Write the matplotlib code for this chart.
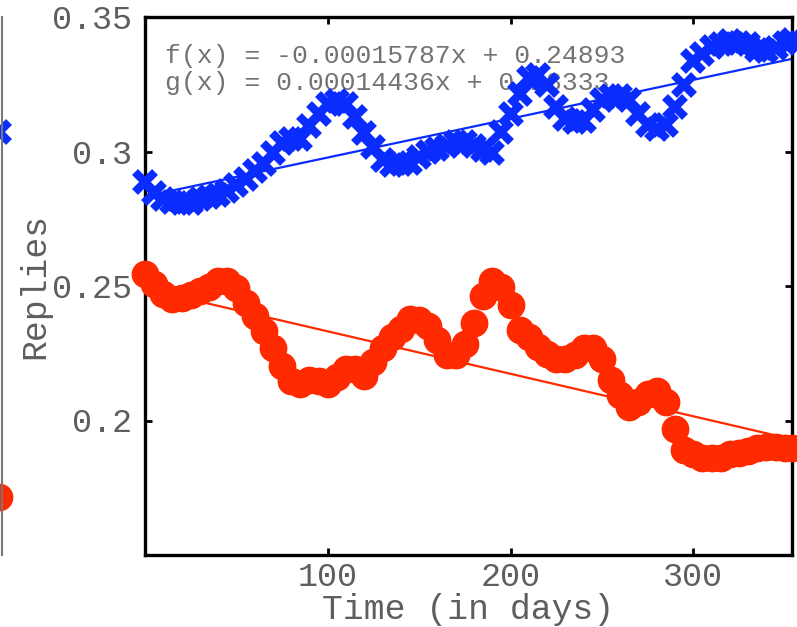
import matplotlib
matplotlib.use('Agg')
import matplotlib.pyplot as plt
import numpy as np

# ---- data ----
days = list(range(0, 351, 5)) + [354]
blue_vals = [0.2885, 0.2844, 0.2825, 0.2814, 0.2810, 0.2810, 0.2822, 0.2829, 0.2840, 0.2855,
             0.2874, 0.2896, 0.2926, 0.2955, 0.2993, 0.3030, 0.3045, 0.3048, 0.3093, 0.3138,
             0.3175, 0.3186, 0.3178, 0.3130, 0.3067, 0.3015, 0.2970, 0.2948, 0.2952, 0.2959,
             0.2981, 0.3000, 0.3011, 0.3022, 0.3037, 0.3037, 0.3022, 0.3004, 0.2996, 0.3071,
             0.3138, 0.3212, 0.3275, 0.3286, 0.3249, 0.3164, 0.3119, 0.3108, 0.3112, 0.3156,
             0.3193, 0.3208, 0.3208, 0.3193, 0.3138, 0.3100, 0.3082, 0.3097, 0.3167, 0.3249,
             0.3335, 0.3364, 0.3390, 0.3398, 0.3409, 0.3405, 0.3398, 0.3379, 0.3372, 0.3383,
             0.3405, 0.3416]
red_vals = [0.2543, 0.2506, 0.2472, 0.2450, 0.2454, 0.2465, 0.2480, 0.2498, 0.2517, 0.2517,
            0.2491, 0.2435, 0.2387, 0.2331, 0.2271, 0.2204, 0.2145, 0.2134, 0.2149, 0.2145,
            0.2134, 0.2160, 0.2193, 0.2190, 0.2167, 0.2216, 0.2271, 0.2309, 0.2342, 0.2379,
            0.2375, 0.2353, 0.2301, 0.2242, 0.2242, 0.2286, 0.2361, 0.2461, 0.2520, 0.2498,
            0.2431, 0.2338, 0.2309, 0.2275, 0.2249, 0.2230, 0.2227, 0.2242, 0.2268, 0.2271,
            0.2227, 0.2152, 0.2093, 0.2052, 0.2067, 0.2100, 0.2108, 0.2067, 0.1967, 0.1892,
            0.1874, 0.1862, 0.1862, 0.1862, 0.1874, 0.1881, 0.1888, 0.1896, 0.1903, 0.1900,
            0.1896, 0.1896]

# linear fits shown in the chart
f_slope, f_icpt = -0.00015787, 0.24893
g_slope, g_icpt = 0.00014436, 0.28333
f_text = "f(x) = -0.00015787x + 0.24893"
g_text = "g(x) = 0.00014436x + 0.28333"

xticks = [100, 200, 300]
xtick_labels = ['100', '200', '300']
yticks = [0.2, 0.25, 0.3, 0.35]
ytick_labels = ['0.2', '0.25', '0.3', '0.35']
x_label = "Time (in days)"
y_label = "Replies"

# tail of the neighbouring panel visible at the left edge
nb_days = [350]
nb_blue = [0.3071]
nb_red = [0.1717]

# ---- style ----
BLUE = '#0a2cff'
RED = '#ff2a00'
GRAY = '#5e5e5e'
FONT = ['Liberation Mono', 'DejaVu Sans Mono']
plt.rcParams['font.family'] = FONT

W, H = 797, 627
fig = plt.figure(figsize=(W / 100, H / 100), dpi=100)

L, R, T, B = 145, 792, 17, 555
ax = fig.add_axes([L / W, 1 - B / H, (R - L) / W, (B - T) / H])

# neighbour panel (only its right edge is visible)
nb = fig.add_axes([-0.3, 1 - B / H, 0.3 + 1.5 / W, (B - T) / H])
nb.set_xlim(0, 354)
nb.set_ylim(0.15, 0.35)
nb.plot(nb_days, nb_blue, ls='none', marker='x', ms=15, mew=6, color=BLUE, clip_on=False)
nb.plot(nb_days, nb_red, ls='none', marker='o', ms=19, color=RED, mec=RED, clip_on=False)
for s in ['top', 'left', 'bottom']:
    nb.spines[s].set_visible(False)
nb.spines['right'].set_color('#777777')
nb.spines['right'].set_linewidth(1.5)
nb.set_xticks([])
nb.set_yticks([])
nb.patch.set_alpha(0)

xs = np.array([days[0], days[-1]], dtype=float)
ax.plot(xs, g_slope * xs + g_icpt, color=BLUE, lw=1.6, zorder=2)
ax.plot(xs, f_slope * xs + f_icpt, color=RED, lw=1.6, zorder=2)
ax.plot(days, blue_vals, ls='none', marker='x', ms=15, mew=6, color=BLUE,
        clip_on=False, zorder=3)
ax.plot(days, red_vals, ls='none', marker='o', ms=19, color=RED, mec=RED,
        clip_on=False, zorder=3)

ax.text(0.031, 0.928, f_text, transform=ax.transAxes, fontsize=19, color='#737373',
        va='center', ha='left', zorder=1)
ax.text(0.031, 0.877, g_text, transform=ax.transAxes, fontsize=19, color='#737373',
        va='center', ha='left', zorder=1)

ax.set_xlim(0, 354)
ax.set_ylim(0.15, 0.35)
ax.set_xticks(xticks)
ax.set_xticklabels(xtick_labels)
ax.set_yticks(yticks)
ax.set_yticklabels(ytick_labels)
ax.tick_params(direction='in', length=5, width=2, top=True, right=True,
               labelsize=24, labelcolor=GRAY, color='black')
ax.tick_params(axis='y', pad=9)
ax.tick_params(axis='x', pad=5)
for s in ax.spines.values():
    s.set_linewidth(2.4)
    s.set_color('black')

xl = ax.set_xlabel(x_label, fontsize=25, color=GRAY)
xl.set_va('center')
ax.xaxis.set_label_coords(0.5, -0.102)
yl = ax.set_ylabel(y_label, fontsize=25, color=GRAY)
yl.set_va('center')
ax.yaxis.set_label_coords(-0.170, 0.5)

fig.savefig('out.png', dpi=100)
